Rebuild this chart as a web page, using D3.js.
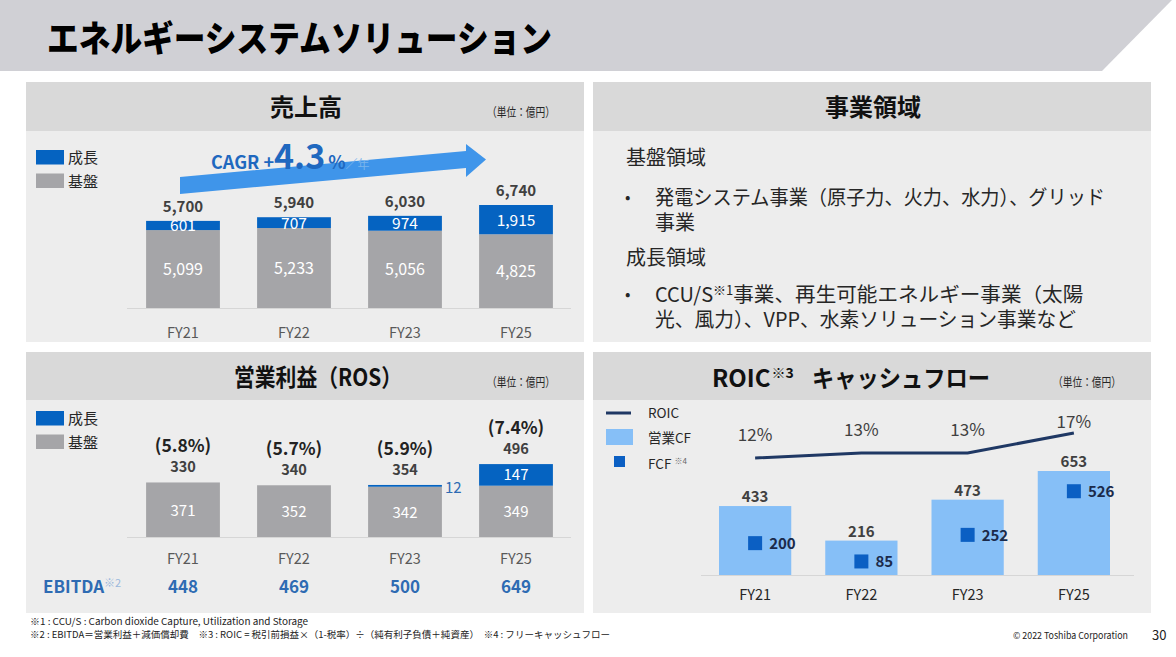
<!DOCTYPE html>
<html><head><meta charset="utf-8">
<script src="https://cdn.jsdelivr.net/npm/d3@7"></script>
<style>
html,body{margin:0;padding:0;background:#fff;}
svg{display:block;font-family:"Noto Sans CJK JP","Noto Sans",sans-serif;}
</style></head>
<body><svg id="c" width="1176" height="657"></svg>
<script>
// ---------- data ----------
const years = ["FY21", "FY22", "FY23", "FY25"];
// 売上高
const salesGrowth = [601, 707, 974, 1915];
const salesBase = [5099, 5233, 5056, 4825];
const cagrValue = "4.3";
// 営業利益
const profitGrowth = [0, 0, 12, 147];
const profitBase = [371, 352, 342, 349];
const profitTotal = [330, 340, 354, 496];
const rosPct = [5.8, 5.7, 5.9, 7.4];
const ebitda = [448, 469, 500, 649];
// ROIC / キャッシュフロー
const opCF = [433, 216, 473, 653];
const fcf = [200, 85, 252, 526];
const roic = [12, 13, 13, 17];
// text
const legendStack = ["成長", "基盤"];
const legendCash = ["ROIC", "営業CF", "FCF"];

const C = {
  blue: "#0563c1", gray: "#a5a5a8", arrow: "#3f95ea", cagr: "#1f68bf",
  lightBlue: "#86bff7", fcf: "#0b5fc3", navy: "#1f3864", ebitda: "#2e6bb3",
  head: "#d9d9d9", body: "#ededed", title: "#d0d0d5", dark: "#262626", mid: "#404040", axisTxt: "#595959"
};
const fmt = d3.format(",");
const svg = d3.select("#c");
svg.append("rect").attr("width", 1176).attr("height", 657).attr("fill", "#fff");

// ---------- title bar ----------
svg.append("path").attr("d", "M0,0 L1172,0 L1102,71 L0,71 Z").attr("fill", C.title);
svg.append("text").attr("x", 47).attr("y", 52).attr("font-size", 36).attr("font-weight", 900)
  .attr("textLength", 505).attr("lengthAdjust", "spacingAndGlyphs").attr("fill", "#000")
  .text("エネルギーシステムソリューション");

// ---------- panels ----------
function panel(x, y, w, h, hh) {
  svg.append("rect").attr("x", x).attr("y", y).attr("width", w).attr("height", h).attr("fill", C.body);
  svg.append("rect").attr("x", x).attr("y", y).attr("width", w).attr("height", hh).attr("fill", C.head);
}
panel(26, 82, 558, 260, 49);
panel(593, 82, 558, 260, 49);
panel(26, 352, 558, 261, 48);
panel(593, 352, 558, 261, 48);

function unit(x, y) {
  svg.append("text").attr("x", x).attr("y", y).attr("font-size", 12.5).attr("fill", C.dark)
    .attr("textLength", 68).attr("lengthAdjust", "spacingAndGlyphs").text("（単位：億円）");
}

// headers
svg.append("text").attr("x", 306).attr("y", 116).attr("text-anchor", "middle").attr("font-size", 24)
  .attr("font-weight", 700).attr("fill", "#111").text("売上高");
unit(487, 117);
svg.append("text").attr("x", 873).attr("y", 116).attr("text-anchor", "middle").attr("font-size", 24)
  .attr("font-weight", 700).attr("fill", "#111").text("事業領域");
svg.append("text").attr("x", 234).attr("y", 386).attr("font-size", 24)
  .attr("font-weight", 700).attr("fill", "#111").attr("textLength", 168).attr("lengthAdjust", "spacingAndGlyphs")
  .text("営業利益（ROS）");
unit(487, 387);
const brT = svg.append("text").attr("x", 712).attr("y", 387).attr("font-size", 24).attr("font-weight", 700).attr("fill", "#111");
brT.append("tspan").text("ROIC");
brT.append("tspan").attr("font-size", 14).attr("dy", -9).attr("dx", 1).text("※3");
svg.append("text").attr("x", 812).attr("y", 387).attr("font-size", 24).attr("font-weight", 700).attr("fill", "#111")
  .attr("textLength", 178).attr("lengthAdjust", "spacingAndGlyphs").text("キャッシュフロー");
unit(1053, 387);

// ---------- stacked legend ----------
function stackLegend(y0) {
  const cols = [C.blue, C.gray];
  legendStack.forEach((t, i) => {
    svg.append("rect").attr("x", 36).attr("y", y0 + i * 23.5).attr("width", 28).attr("height", 14.5).attr("fill", cols[i]);
    svg.append("text").attr("x", 68).attr("y", y0 + i * 23.5 + 13).attr("font-size", 15).attr("fill", C.dark).text(t);
  });
}
stackLegend(150);
stackLegend(411);

// ---------- 売上高 chart ----------
const x1 = d3.scaleBand().domain(years).range([127.5, 571.5]).paddingInner(0.335).paddingOuter(0.1675);
const y1 = d3.scaleLinear().domain([0, 6740]).range([308, 205]);
svg.append("line").attr("x1", 127).attr("x2", 571).attr("y1", 308.5).attr("y2", 308.5).attr("stroke", "#d6d6d6");
const g1 = svg.append("g");
years.forEach((yr, i) => {
  const bx = x1(yr), bw = x1.bandwidth(), cx = bx + bw / 2;
  const b = salesBase[i], g = salesGrowth[i], t = b + g;
  g1.append("rect").attr("x", bx).attr("y", y1(b)).attr("width", bw).attr("height", y1(0) - y1(b)).attr("fill", C.gray);
  g1.append("rect").attr("x", bx).attr("y", y1(t)).attr("width", bw).attr("height", y1(b) - y1(t)).attr("fill", C.blue);
  g1.append("text").attr("x", cx).attr("y", (y1(0) + y1(b)) / 2 + 6).attr("text-anchor", "middle")
    .attr("font-size", 16).attr("fill", "#fff").text(fmt(b));
  g1.append("text").attr("x", cx).attr("y", (y1(b) + y1(t)) / 2 + 6).attr("text-anchor", "middle")
    .attr("font-size", 15.5).attr("fill", "#fff").text(fmt(g));
  g1.append("text").attr("x", cx).attr("y", y1(t) - 9).attr("text-anchor", "middle")
    .attr("font-size", 15).attr("font-weight", 700).attr("fill", C.mid).text(fmt(t));
  g1.append("text").attr("x", cx).attr("y", 338).attr("text-anchor", "middle")
    .attr("font-size", 14.5).attr("fill", C.axisTxt).text(yr);
});
// CAGR arrow
svg.append("path").attr("d", "M180,177 L466,151 L466,144 L486,159.5 L466,177 L466,168 L180,194 Z").attr("fill", C.arrow);
const ct = svg.append("text").attr("x", 211).attr("y", 169).attr("fill", C.cagr).attr("font-weight", 700);
ct.append("tspan").attr("font-size", 18).text("CAGR +");
ct.append("tspan").attr("font-size", 34).text(cagrValue);
ct.append("tspan").attr("font-size", 18).attr("dx", 3).text("%");
ct.append("tspan").attr("font-size", 12).attr("font-weight", 400).attr("fill", "#7ab4ec").text("／年");

// ---------- 事業領域 ----------
const tx = svg.append("g").attr("fill", C.dark).attr("font-size", 20);
tx.append("text").attr("x", 626).attr("y", 165).text("基盤領域");
tx.append("text").attr("x", 625).attr("y", 203).attr("font-size", 16).text("•");
tx.append("text").attr("x", 655).attr("y", 205).attr("textLength", 450).attr("lengthAdjust", "spacingAndGlyphs")
  .text("発電システム事業（原子力、火力、水力）、グリッド");
tx.append("text").attr("x", 655).attr("y", 230).text("事業");
tx.append("text").attr("x", 626).attr("y", 265).text("成長領域");
tx.append("text").attr("x", 625).attr("y", 300).attr("font-size", 16).text("•");
const ccu = tx.append("text").attr("x", 655).attr("y", 302);
ccu.append("tspan").text("CCU/S");
ccu.append("tspan").attr("font-size", 13).attr("dy", -7).text("※1");
ccu.append("tspan").attr("dy", 7).attr("textLength", 350).attr("lengthAdjust", "spacingAndGlyphs")
  .text("事業、再生可能エネルギー事業（太陽");
tx.append("text").attr("x", 655).attr("y", 327).attr("textLength", 421).attr("lengthAdjust", "spacingAndGlyphs")
  .text("光、風力）、VPP、水素ソリューション事業など");

// ---------- 営業利益 chart ----------
const y2 = d3.scaleLinear().domain([0, 500]).range([537, 463.5]);
svg.append("line").attr("x1", 127).attr("x2", 571).attr("y1", 537.5).attr("y2", 537.5).attr("stroke", "#d6d6d6");
const g2 = svg.append("g");
years.forEach((yr, i) => {
  const bx = x1(yr), bw = x1.bandwidth(), cx = bx + bw / 2;
  const b = profitBase[i], g = profitGrowth[i], t = b + g;
  g2.append("rect").attr("x", bx).attr("y", y2(b)).attr("width", bw).attr("height", y2(0) - y2(b)).attr("fill", C.gray);
  if (g > 0) {
    g2.append("rect").attr("x", bx).attr("y", y2(t)).attr("width", bw).attr("height", y2(b) - y2(t)).attr("fill", C.blue);
    if (y2(b) - y2(t) > 10) {
      g2.append("text").attr("x", cx).attr("y", (y2(b) + y2(t)) / 2 + 5.5).attr("text-anchor", "middle")
        .attr("font-size", 15).attr("fill", "#fff").text(g);
    } else {
      g2.append("text").attr("x", bx + bw + 3).attr("y", y2(t) + 8).attr("font-size", 15).attr("fill", C.ebitda).text(g);
    }
  }
  g2.append("text").attr("x", cx).attr("y", (y2(0) + y2(b)) / 2 + 6).attr("text-anchor", "middle")
    .attr("font-size", 15).attr("fill", "#fff").text(b);
  g2.append("text").attr("x", cx).attr("y", y2(t) - 10).attr("text-anchor", "middle")
    .attr("font-size", 14.5).attr("font-weight", 700).attr("fill", C.mid).text(profitTotal[i]);
  g2.append("text").attr("x", cx).attr("y", y2(t) - 30).attr("text-anchor", "middle")
    .attr("font-size", 17.5).attr("font-weight", 700).attr("fill", "#222").text("(" + rosPct[i].toFixed(1) + "%)");
  g2.append("text").attr("x", cx).attr("y", 564).attr("text-anchor", "middle")
    .attr("font-size", 14.5).attr("fill", C.axisTxt).text(yr);
  g2.append("text").attr("x", cx).attr("y", 593).attr("text-anchor", "middle")
    .attr("font-size", 17).attr("font-weight", 700).attr("fill", C.ebitda).text(ebitda[i]);
});
const eb = svg.append("text").attr("x", 43).attr("y", 593).attr("font-size", 17).attr("font-weight", 700).attr("fill", C.ebitda);
eb.append("tspan").text("EBITDA");
eb.append("tspan").attr("font-size", 11).attr("font-weight", 400).attr("fill", "#9bb8dc").attr("dy", -6).text("※2");

// ---------- ROIC / CF chart ----------
const x3 = d3.scaleBand().domain(years).range([702, 1127]).paddingInner(0.32).paddingOuter(0.16);
const y3 = d3.scaleLinear().domain([0, 653]).range([575, 471]);
const yr3 = d3.scaleLinear().domain([12, 17]).range([458, 433]);
svg.append("line").attr("x1", 701).attr("x2", 1134).attr("y1", 575.5).attr("y2", 575.5).attr("stroke", "#d6d6d6");
const g3 = svg.append("g");
years.forEach((yr, i) => {
  const bx = x3(yr), bw = x3.bandwidth(), cx = bx + bw / 2;
  g3.append("rect").attr("x", bx).attr("y", y3(opCF[i])).attr("width", bw).attr("height", y3(0) - y3(opCF[i])).attr("fill", C.lightBlue);
  g3.append("text").attr("x", cx).attr("y", y3(opCF[i]) - 4).attr("text-anchor", "middle")
    .attr("font-size", 15).attr("font-weight", 700).attr("fill", C.mid).text(opCF[i]);
  g3.append("rect").attr("x", cx - 7).attr("y", y3(fcf[i]) - 7).attr("width", 14).attr("height", 14).attr("fill", C.fcf);
  g3.append("text").attr("x", cx + 14).attr("y", y3(fcf[i]) + 6).attr("font-size", 15).attr("font-weight", 700)
    .attr("fill", "#1b2a4a").text(fcf[i]);
  g3.append("text").attr("x", cx).attr("y", 600).attr("text-anchor", "middle")
    .attr("font-size", 14.5).attr("fill", C.dark).text(yr);
  g3.append("text").attr("x", cx).attr("y", yr3(roic[i]) - (i === years.length - 1 ? 5 : 17)).attr("text-anchor", "middle")
    .attr("font-size", 17).attr("fill", C.mid).text(roic[i] + "%");
});
const line = d3.line().x((d, i) => x3(years[i]) + x3.bandwidth() / 2).y(d => yr3(d));
g3.append("path").attr("d", line(roic)).attr("fill", "none").attr("stroke", C.navy).attr("stroke-width", 3);

// legend
svg.append("line").attr("x1", 606).attr("x2", 631).attr("y1", 413).attr("y2", 413).attr("stroke", C.navy).attr("stroke-width", 3);
svg.append("rect").attr("x", 606).attr("y", 429).attr("width", 27).attr("height", 16).attr("fill", C.lightBlue);
svg.append("rect").attr("x", 614).attr("y", 456).attr("width", 11).attr("height", 11).attr("fill", C.fcf);
[418, 443].forEach((yy, i) => svg.append("text").attr("x", 648).attr("y", yy).attr("font-size", 13.5).attr("fill", C.dark).text(legendCash[i]));
const fl = svg.append("text").attr("x", 648).attr("y", 469).attr("font-size", 13.5).attr("fill", C.dark);
fl.append("tspan").text(legendCash[2] + " ");
fl.append("tspan").attr("font-size", 8).attr("dy", -5).attr("fill", "#666").text("※4");

// ---------- footer ----------
svg.append("text").attr("x", 30).attr("y", 625).attr("font-size", 9.5).attr("fill", "#222")
  .attr("textLength", 278).attr("lengthAdjust", "spacingAndGlyphs")
  .text("※1 : CCU/S : Carbon dioxide Capture, Utilization and Storage");
svg.append("text").attr("x", 30).attr("y", 638).attr("font-size", 9.5).attr("fill", "#222")
  .attr("textLength", 580).attr("lengthAdjust", "spacingAndGlyphs")
  .text("※2 : EBITDA＝営業利益＋減価償却費　※3 : ROIC = 税引前損益×（1-税率）÷（純有利子負債＋純資産）　※4 : フリーキャッシュフロー");
svg.append("text").attr("x", 1013).attr("y", 639).attr("font-size", 9.5).attr("fill", "#222")
  .attr("textLength", 115).attr("lengthAdjust", "spacingAndGlyphs").text("© 2022 Toshiba Corporation");
svg.append("text").attr("x", 1152).attr("y", 640).attr("font-size", 13).attr("fill", "#222").text("30");
</script></body></html>
